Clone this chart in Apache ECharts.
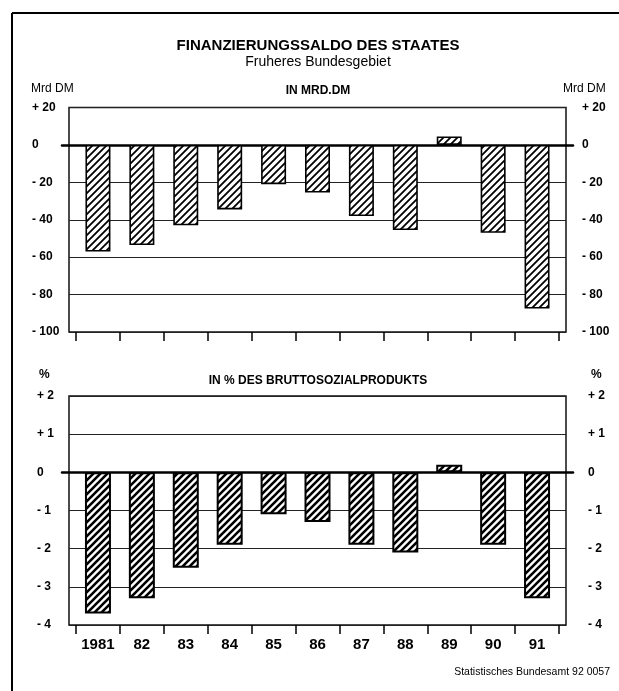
<!DOCTYPE html>
<html>
<head>
<meta charset="utf-8">
<script src="https://cdn.jsdelivr.net/npm/echarts@6/dist/echarts.min.js"></script>
<style>
html,body{margin:0;padding:0;background:#fff;}
#chart{width:619px;height:691px;}
</style>
</head>
<body>
<div id="chart"></div>
<script>
// ---- data ----
const years = ['1981', '82', '83', '84', '85', '86', '87', '88', '89', '90', '91'];
const mrdValues = [-57, -53.5, -43, -34.5, -21, -25.5, -38, -45.5, 4.5, -47, -87.5];
const pctValues = [-3.7, -3.3, -2.5, -1.9, -1.1, -1.3, -1.9, -2.1, 0.2, -1.9, -3.3];
const mrdTicks = [20, 0, -20, -40, -60, -80, -100];
const mrdTickLabels = ['+ 20', '0', '- 20', '- 40', '- 60', '- 80', '- 100'];
const pctTicks = [2, 1, 0, -1, -2, -3, -4];
const pctTickLabels = ['+ 2', '+ 1', '0', '- 1', '- 2', '- 3', '- 4'];

// ---- hatch pattern ----
function hatch(size, lw) {
  const c = document.createElement('canvas');
  c.width = size; c.height = size;
  const g = c.getContext('2d');
  g.fillStyle = '#fff'; g.fillRect(0, 0, size, size);
  g.strokeStyle = '#000'; g.lineWidth = lw; g.lineCap = 'square';
  g.beginPath();
  g.moveTo(-1, size + 1); g.lineTo(size + 1, -1);
  g.moveTo(-1, 1); g.lineTo(1, -1);
  g.moveTo(size - 1, size + 1); g.lineTo(size + 1, size - 1);
  g.stroke();
  return c;
}

const FONT = 'Liberation Sans, Arial, sans-serif';
const chart = echarts.init(document.getElementById('chart'), null, {renderer: 'canvas'});

const TOP = {top: 107.5, height: 224.5};
const BOT = {top: 396, height: 229};

function grids(p) {
  return [
    {left: 69, width: 497, top: p.top, height: p.height, show: true, borderColor: '#111', borderWidth: 1.5, backgroundColor: 'transparent'},
    {left: 76, width: 483, top: p.top, height: p.height},
    {left: 62, width: 511, top: p.top, height: p.height}
  ];
}

function yLabel(ticks, labels, margin) {
  return {
    show: true, margin: margin, align: 'left',
    color: '#000', fontFamily: FONT, fontWeight: 'bold', fontSize: 12,
    formatter: v => { const i = ticks.indexOf(v); return i >= 0 ? labels[i] : ''; }
  };
}

function yAxes(gBase, min, max, interval, ticks, labels, lm, rm) {
  return [
    {gridIndex: gBase, type: 'value', min: min, max: max, interval: interval, position: 'left',
     axisLine: {show: false}, axisTick: {show: false}, axisLabel: yLabel(ticks, labels, lm),
     splitLine: {show: true, lineStyle: {color: '#222', width: 1}}},
    {gridIndex: gBase, type: 'value', min: min, max: max, interval: interval, position: 'right',
     axisLine: {show: false}, axisTick: {show: false}, axisLabel: yLabel(ticks, labels, rm),
     splitLine: {show: false}},
    {gridIndex: gBase + 1, type: 'value', min: min, max: max, interval: interval, show: false},
    {gridIndex: gBase + 2, type: 'value', min: min, max: max, interval: interval, show: false}
  ];
}

function xAxes(gBase, showLabels) {
  return [
    {gridIndex: gBase, type: 'value', min: 0, max: 1, show: false},
    {gridIndex: gBase + 1, type: 'category', data: years, boundaryGap: true, position: 'bottom',
     axisLine: {show: false, onZero: false},
     axisTick: {show: true, length: 9, inside: false, lineStyle: {color: '#000', width: 1.5}},
     axisLabel: {show: showLabels, margin: 12, color: '#000', fontFamily: FONT, fontWeight: 'bold', fontSize: 15}},
    {gridIndex: gBase + 2, type: 'value', min: 0, max: 1, show: true,
     axisLine: {show: true, onZero: true, lineStyle: {color: '#000', width: 2.5}},
     axisTick: {show: false}, axisLabel: {show: false}, splitLine: {show: false}}
  ];
}

const texts = [
  {text: 'FINANZIERUNGSSALDO DES STAATES', left: 318, top: 38, textAlign: 'center', size: 15, weight: 'bold'},
  {text: 'Fruheres Bundesgebiet', left: 318, top: 55, textAlign: 'center', size: 14, weight: 'normal'},
  {text: 'IN MRD.DM', left: 318, top: 85, textAlign: 'center', size: 12, weight: 'bold'},
  {text: 'Mrd DM', left: 31, top: 83, textAlign: 'left', size: 12, weight: 'normal'},
  {text: 'Mrd DM', left: 563, top: 83, textAlign: 'left', size: 12, weight: 'normal'},
  {text: '%', left: 39, top: 369, textAlign: 'left', size: 12, weight: 'bold'},
  {text: '%', left: 591, top: 369, textAlign: 'left', size: 12, weight: 'bold'},
  {text: 'IN % DES BRUTTOSOZIALPRODUKTS', left: 318, top: 375, textAlign: 'center', size: 12, weight: 'bold'},
  {text: 'Statistisches Bundesamt 92 0057', left: 610, top: 667, textAlign: 'right', size: 10.5, weight: 'normal'}
];

const option = {
  backgroundColor: '#fff',
  animation: false,
  title: texts.map(t => ({
    text: t.text, left: t.left, top: t.top, textAlign: t.textAlign, padding: 0,
    textStyle: {fontFamily: FONT, fontSize: t.size, fontWeight: t.weight, color: '#000'}
  })),
  graphic: [
    {type: 'line', shape: {x1: 12, y1: 13, x2: 12, y2: 691}, style: {stroke: '#000', lineWidth: 2}},
    {type: 'line', shape: {x1: 12, y1: 13, x2: 619, y2: 13}, style: {stroke: '#000', lineWidth: 2}}
  ],
  grid: grids(TOP).concat(grids(BOT)),
  xAxis: xAxes(0, false).concat(xAxes(3, true)),
  yAxis: yAxes(0, -100, 20, 20, mrdTicks, mrdTickLabels, 37, 16)
    .concat(yAxes(3, -4, 2, 1, pctTicks, pctTickLabels, 32, 22)),
  series: [
    {type: 'bar', xAxisIndex: 1, yAxisIndex: 2, data: mrdValues, barWidth: 25, z: 3,
     itemStyle: {color: {image: hatch(7, 1.8), repeat: 'repeat'}, borderColor: '#000', borderWidth: 1.6}},
    {type: 'bar', xAxisIndex: 4, yAxisIndex: 6, data: pctValues, barWidth: 26, z: 3,
     itemStyle: {color: {image: hatch(7, 2.6), repeat: 'repeat'}, borderColor: '#000', borderWidth: 2}}
  ]
};
chart.setOption(option);
</script>
</body>
</html>
